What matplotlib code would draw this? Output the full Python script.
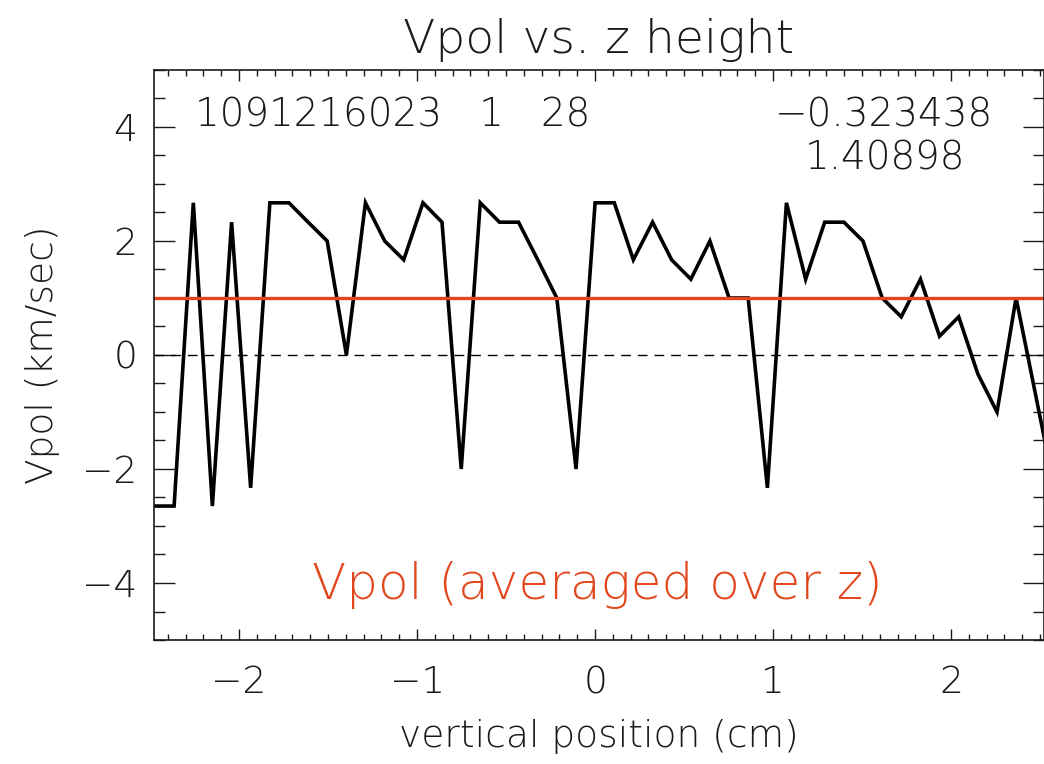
import matplotlib
matplotlib.use('Agg')
import matplotlib.pyplot as plt
from matplotlib.ticker import MultipleLocator

plt.rcParams['font.family'] = ['DejaVu Sans']
plt.rcParams['font.weight'] = 200
plt.rcParams['axes.titleweight'] = 200
plt.rcParams['axes.labelweight'] = 200

# vertical position (cm) and Vpol (km/sec)
z_pos = [-2.472, -2.365, -2.257, -2.150, -2.042, -1.935, -1.827, -1.720,
         -1.612, -1.505, -1.397, -1.290, -1.182, -1.075, -0.967, -0.860,
         -0.752, -0.645, -0.537, -0.430, -0.322, -0.215, -0.107, 0.000,
         0.108, 0.215, 0.323, 0.430, 0.538, 0.645, 0.753, 0.860,
         0.968, 1.075, 1.183, 1.290, 1.398, 1.505, 1.613, 1.720,
         1.828, 1.935, 2.043, 2.150, 2.258, 2.365, 2.473, 2.580]
vpol = [-2.65, -2.65, 2.67, -2.65, 2.33, -2.33, 2.67, 2.67,
        2.33, 2.00, 0.00, 2.67, 2.00, 1.67, 2.67, 2.33,
        -2.00, 2.67, 2.33, 2.33, 1.67, 1.00, -2.00, 2.67,
        2.67, 1.67, 2.33, 1.67, 1.33, 2.00, 1.00, 1.00,
        -2.33, 2.67, 1.33, 2.33, 2.33, 2.00, 1.00, 0.67,
        1.33, 0.33, 0.67, -0.33, -1.00, 1.00, -0.67, -2.33]
vpol_avg = 1.0

shot_text = '1091216023   1   28'
val_text1 = '\u22120.323438'
val_text2 = '1.40898'

text_color = '#1a1a1a'
red = '#E2461C'

fig = plt.figure(figsize=(10.44, 7.64), dpi=100)
ax = fig.add_axes([0.1475, 0.1623, 0.8525, 0.7461])

ax.plot(z_pos, vpol, color='black', linewidth=2.6, solid_joinstyle='miter')
ax.axhline(vpol_avg, color=red, linewidth=2.4)
ax.axhline(0, color='black', linewidth=1.0, linestyle=(0, (7, 5)))

ax.set_xlim(-2.478, 2.522)
ax.set_ylim(-5, 5)

ax.xaxis.set_major_locator(MultipleLocator(1))
ax.xaxis.set_minor_locator(MultipleLocator(0.1))
ax.yaxis.set_major_locator(MultipleLocator(2))
ax.yaxis.set_minor_locator(MultipleLocator(0.5))

ax.tick_params(axis='both', which='both', direction='in',
               top=True, right=True, colors=text_color, labelsize=27)
ax.tick_params(axis='x', which='major', length=8, width=1.0, pad=18)
ax.tick_params(axis='x', which='minor', length=4, width=1.0)
ax.tick_params(axis='y', which='major', length=15, width=1.0, pad=12)
ax.tick_params(axis='y', which='minor', length=8, width=1.0)

for spine in ax.spines.values():
    spine.set_color(text_color)
    spine.set_linewidth(1.2)

ax.set_title('Vpol vs. z height', fontsize=34, color=text_color, pad=12)
ax.set_xlabel('vertical position (cm)', fontsize=27, color=text_color, labelpad=14)
ax.set_ylabel('Vpol (km/sec)', fontsize=27, color=text_color, labelpad=16)

ax.text(-2.25, 4.0, shot_text, fontsize=28, color=text_color)
ax.text(1.01, 4.0, val_text1, fontsize=28, color=text_color)
ax.text(1.18, 3.25, val_text2, fontsize=28, color=text_color)
ax.text(0.01, -4.28, 'Vpol (averaged over z)', fontsize=36, color=red, ha='center')

fig.savefig('out.png', dpi=100)
